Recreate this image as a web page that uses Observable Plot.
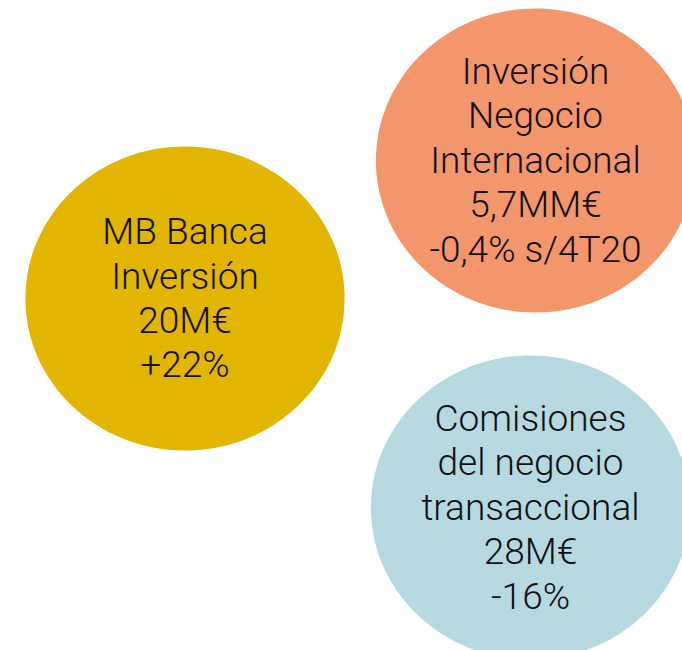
<!DOCTYPE html>
<html>
<head>
<meta charset="utf-8">
<script src="https://cdn.jsdelivr.net/npm/d3@7"></script>
<script src="https://cdn.jsdelivr.net/npm/@observablehq/plot@0.6"></script>
<style>
  html, body { margin: 0; padding: 0; background: #ffffff; }
  #chart svg { display: block; }
</style>
</head>
<body>
<div id="chart"></div>
<script>
// Bubble labels (one line per entry in each text)
const categories = ["MB Banca Inversión", "Inversión Negocio Internacional", "Comisiones del negocio transaccional"];
const labels = [
  "MB Banca\nInversión\n20M€\n+22%",
  "Inversión\nNegocio\nInternacional\n5,7MM€\n-0,4% s/4T20",
  "Comisiones\ndel negocio\ntransaccional\n28M€\n-16%"
];
// Layout positions in an abstract 682 x 650 canvas space
const cx = [184.5, 535, 530];
const cy = [298, 160, 507];
const colors = ["#E1B500", "#F4966C", "#B5D9DF"];

const data = categories.map((c, i) => ({category: c, label: labels[i], x: cx[i], y: cy[i], color: colors[i]}));

// slightly wide ellipse symbol (as in the reference)
const ellipse = {
  draw(ctx, size) {
    const r = Math.sqrt(size / Math.PI);
    const rx = r * 1.05, ry = r;
    const k = 0.5522847498;
    ctx.moveTo(rx, 0);
    ctx.bezierCurveTo(rx, ry * k, rx * k, ry, 0, ry);
    ctx.bezierCurveTo(-rx * k, ry, -rx, ry * k, -rx, 0);
    ctx.bezierCurveTo(-rx, -ry * k, -rx * k, -ry, 0, -ry);
    ctx.bezierCurveTo(rx * k, -ry, rx, -ry * k, rx, 0);
    ctx.closePath();
  }
};

const chart = Plot.plot({
  width: 682,
  height: 650,
  margin: 0,
  x: {domain: [0, 682], range: [0, 682], axis: null},
  y: {domain: [0, 650], range: [0, 650], axis: null},
  style: {background: "#ffffff", overflow: "hidden"},
  marks: [
    Plot.dot(data, {x: "x", y: "y", r: 152, fill: "color", stroke: null, symbol: ellipse}),
    Plot.text(data, {
      x: "x", y: "y", text: "label",
      dy: -2,
      fontSize: 37, lineHeight: 1.2,
      fontFamily: "Roboto, 'Noto Sans', sans-serif",
      fontWeight: 300,
      fill: "#111111", textAnchor: "middle"
    })
  ]
});
document.getElementById("chart").appendChild(chart);
</script>
</body>
</html>
